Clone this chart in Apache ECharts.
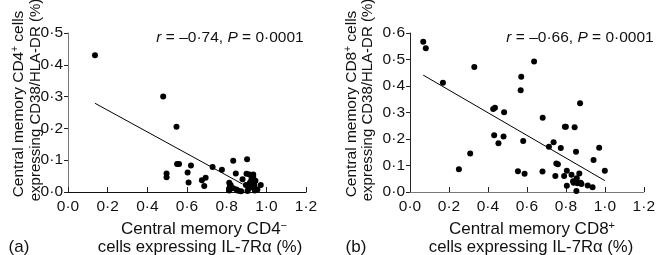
<!DOCTYPE html>
<html>
<head>
<meta charset="utf-8">
<script src="https://cdn.jsdelivr.net/npm/echarts@6/dist/echarts.min.js"></script>
<style>
  html, body { margin: 0; padding: 0; background: #fff; }
  #chart { width: 658px; height: 255px; }
</style>
</head>
<body>
<div id="chart"></div>
<script>
// panel (a): CD4+ cells, x = IL-7Ra %, y = CD38/HLA-DR %
const pointsA = [
  [0.136, 0.43], [0.48, 0.30], [0.547, 0.205], [0.497, 0.058], [0.497, 0.046],
  [0.55, 0.088], [0.56, 0.088], [0.62, 0.083], [0.603, 0.061], [0.608, 0.030],
  [0.675, 0.037], [0.694, 0.045], [0.687, 0.019], [0.729, 0.079], [0.776, 0.070],
  [0.833, 0.098], [0.903, 0.103], [0.846, 0.058], [0.90, 0.057], [0.915, 0.055],
  [0.934, 0.055], [0.813, 0.029], [0.816, 0.017], [0.813, 0.005], [0.833, 0.012],
  [0.858, 0.004], [0.873, 0.002], [0.88, 0.040], [0.897, 0.022], [0.91, 0.010],
  [0.917, 0.029], [0.925, 0.040], [0.934, 0.048], [0.93, 0.015], [0.942, 0.005],
  [0.94, 0.022], [0.972, 0.022], [0.82, 0.022], [0.85, 0.008], [0.905, 0.003],
  [0.925, 0.025], [0.945, 0.035], [0.94, 0.012], [0.955, 0.008]
];
const fitA = [[0.136, 0.279], [0.88, 0.025]];

// panel (b): CD8+ cells
const pointsB = [
  [0.068, 0.567], [0.081, 0.542], [0.169, 0.412], [0.33, 0.472], [0.251, 0.086],
  [0.309, 0.145], [0.427, 0.313], [0.436, 0.318], [0.483, 0.301], [0.432, 0.214],
  [0.48, 0.209], [0.454, 0.184], [0.571, 0.435], [0.568, 0.384], [0.637, 0.492],
  [0.581, 0.192], [0.554, 0.078], [0.588, 0.069], [0.681, 0.280], [0.68, 0.077],
  [0.713, 0.171], [0.737, 0.188], [0.751, 0.108], [0.759, 0.105], [0.774, 0.166],
  [0.746, 0.060], [0.795, 0.246], [0.80, 0.246], [0.845, 0.244], [0.852, 0.152],
  [0.873, 0.335], [0.791, 0.060], [0.805, 0.080], [0.829, 0.065], [0.869, 0.070],
  [0.805, 0.024], [0.837, 0.041], [0.84, 0.035], [0.856, 0.052], [0.86, 0.033],
  [0.876, 0.035], [0.88, 0.030], [0.854, 0.004], [0.912, 0.025], [0.937, 0.018],
  [0.942, 0.121], [0.971, 0.167], [1.0, 0.080]
];
const fitB = [[0.068, 0.441], [1.0, 0.043]];

const FONT = "'Liberation Sans', Arial, sans-serif";
const dot = (v) => v.toFixed(1).replace('.', '\u00b7');

const chart = echarts.init(document.getElementById('chart'));

function xAxisCfg(idx, lineColor) {
  return {
    gridIndex: idx, type: 'value', min: 0, max: 1.2, interval: 0.2,
    axisLine: { lineStyle: { color: lineColor, width: 1 } },
    axisTick: { show: true, inside: true, length: 5, lineStyle: { color: '#222' } },
    axisLabel: { color: '#111', fontSize: 15.5, fontFamily: FONT, margin: 7, formatter: dot },
    splitLine: { show: false }
  };
}
function yAxisCfg(idx, max, lineColor) {
  return {
    gridIndex: idx, type: 'value', min: 0, max: max, interval: 0.1,
    axisLine: { show: true, lineStyle: { color: lineColor, width: 1 } },
    axisTick: { show: true, length: 4, lineStyle: { color: '#222' } },
    axisLabel: { color: '#111', fontSize: 15.5, fontFamily: FONT, margin: 5, formatter: dot },
    splitLine: { show: false }
  };
}

function label(x, y, text, size, rot) {
  return {
    type: 'text', x: x, y: y, rotation: rot || 0,
    style: {
      text: text, fill: '#111', fontSize: size, fontFamily: FONT,
      align: 'center', verticalAlign: 'middle',
      rich: {
        i: { fontStyle: 'italic', fontSize: size, fontFamily: FONT, fill: '#111' },
        s: { fontSize: Math.round(size * 0.62), fontFamily: FONT, fill: '#111',
             verticalAlign: 'top', padding: [0, 0, 7, 0] }
      }
    }
  };
}
const UP = Math.PI / 2;

const option = {
  animation: false,
  backgroundColor: '#fff',
  grid: [
    { left: 68, top: 33, width: 238, height: 159 },
    { left: 410, top: 33, width: 236, height: 159 }
  ],
  xAxis: [xAxisCfg(0, '#111'), xAxisCfg(1, '#777')],
  yAxis: [yAxisCfg(0, 0.5, '#777'), yAxisCfg(1, 0.6, '#222')],
  series: [
    { type: 'scatter', xAxisIndex: 0, yAxisIndex: 0, data: pointsA, symbolSize: 6,
      itemStyle: { color: '#000', opacity: 1 } },
    { type: 'line', xAxisIndex: 0, yAxisIndex: 0, data: fitA, symbol: 'none',
      lineStyle: { color: '#000', width: 1 } },
    { type: 'scatter', xAxisIndex: 1, yAxisIndex: 1, data: pointsB, symbolSize: 6,
      itemStyle: { color: '#000', opacity: 1 } },
    { type: 'line', xAxisIndex: 1, yAxisIndex: 1, data: fitB, symbol: 'none',
      lineStyle: { color: '#000', width: 1 } }
  ],
  graphic: [
    label(19, 104, 'Central memory CD4{s|+} cells', 15.5, UP),
    label(36, 100, 'expressing CD38/HLA-DR (%)', 15, UP),
    label(204, 229, 'Central memory CD4{s|\u2212}', 17),
    label(200, 247, 'cells expressing IL-7R\u03b1 (%)', 16.7),
    label(230, 38, '{i|r} = \u20130\u00b774, {i|P} = 0\u00b70001', 15.5),
    label(19, 247, '(a)', 17),

    label(352, 104, 'Central memory CD8{s|+} cells', 15.5, UP),
    label(368, 100, 'expressing CD38/HLA-DR (%)', 15, UP),
    label(532, 229, 'Central memory CD8{s|+}', 17),
    label(531, 247, 'cells expressing IL-7R\u03b1 (%)', 16.7),
    label(580, 38, '{i|r} = \u20130\u00b766, {i|P} = 0\u00b70001', 15.5),
    label(356, 247, '(b)', 17)
  ]
};
chart.setOption(option);
</script>
</body>
</html>
